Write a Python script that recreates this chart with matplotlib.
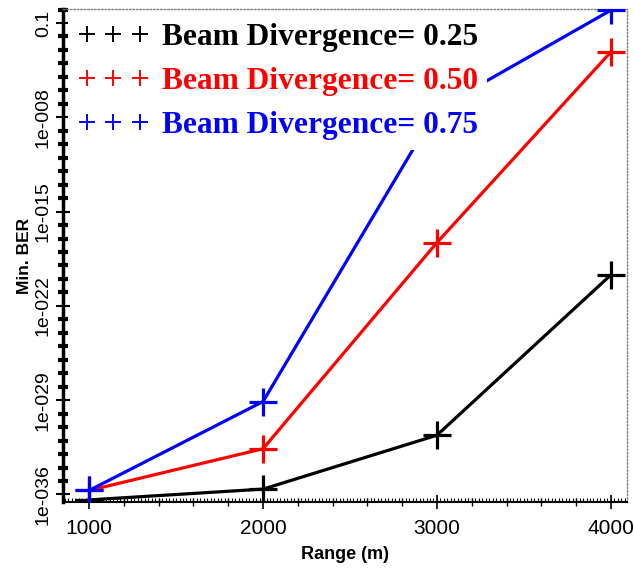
import numpy as np
import matplotlib
matplotlib.use("Agg")
import matplotlib.pyplot as plt
from matplotlib.lines import Line2D
from matplotlib.ticker import FixedLocator, FuncFormatter

# data (log10 of min BER)
ranges = [1000, 2000, 3000, 4000]
ber_025 = [-36.4, -35.6, -31.6, -19.7]
ber_050 = [-35.7, -32.6, -17.3, -3.15]
ber_075 = [-35.7, -29.1, -7.4, -0.05]
labels = ["Beam Divergence= 0.25", "Beam Divergence= 0.50", "Beam Divergence= 0.75"]
colors = ["black", "red", "blue"]
major_exps = [-36, -29, -22, -15, -8, -1]


def fmt(v, pos):
    e = int(round(np.log10(v)))
    if e == -1:
        return "0.1"
    return "1e-%03d" % (-e)


plt.rcParams["font.family"] = ["Liberation Sans", "DejaVu Sans"]

fig = plt.figure(figsize=(6.34, 5.71), dpi=100)
ax = fig.add_axes([0.0994, 0.121, 0.8896, 0.863])

for vals, c in zip([ber_025, ber_050, ber_075], colors):
    ax.plot(ranges, [10.0 ** v for v in vals], color=c, lw=2.3,
            marker="+", ms=20, mew=2.3, zorder=3)

ax.set_yscale("log")
ax.set_ylim(10 ** -36.55, 10 ** 0.03)
ax.set_xlim(850, 4093)

ax.yaxis.set_major_locator(FixedLocator([10.0 ** e for e in major_exps]))
ax.yaxis.set_minor_locator(FixedLocator([10.0 ** e for e in range(-36, 1)]))
ax.yaxis.set_major_formatter(FuncFormatter(fmt))
ax.yaxis.set_minor_formatter(FuncFormatter(lambda v, p: ""))
ax.set_xticks(ranges)
ax.set_xticks(np.arange(1000, 4001, 200), minor=True)

ax.tick_params(axis="y", which="major", direction="inout", length=10, width=1.5,
               labelsize=14, pad=3)
ax.tick_params(axis="y", which="minor", direction="inout", length=7, width=3)
ax.tick_params(axis="x", which="major", direction="inout", length=10, width=1.2,
               labelsize=15, pad=7)
ax.tick_params(axis="x", which="minor", direction="inout", length=6, width=1)
for t in ax.get_yticklabels():
    t.set_rotation(90)
    t.set_va("center")

# fine hatching along the bottom axis
sec = ax.secondary_xaxis("bottom")
sec.set_xticks(np.arange(860, 4093, 20))
sec.tick_params(direction="in", length=3, width=0.8, labelbottom=False)
sec.spines["bottom"].set_visible(False)

for s in ["top", "right"]:
    ax.spines[s].set_linestyle((0, (1, 1.5)))
    ax.spines[s].set_color("gray")
    ax.spines[s].set_linewidth(1)
ax.spines["left"].set_linewidth(2.5)
ax.spines["bottom"].set_linewidth(1.5)

ax.set_xlabel("Range (m)", fontsize=13, fontweight="bold", labelpad=6)
ax.set_ylabel("Min. BER", fontsize=12.5, fontweight="bold", labelpad=2)

handles = [Line2D([0], [0], color=c, ls="none", marker="+", ms=11, mew=1.4)
           for c in colors]
leg = ax.legend(handles, labels, loc="upper left", bbox_to_anchor=(0.0, 1.0),
                numpoints=3, handlelength=2.3, handletextpad=0.4,
                prop={"family": "Liberation Serif", "weight": "bold", "size": 22.6},
                frameon=True, fancybox=False, framealpha=1, edgecolor="none",
                borderpad=0.3, labelspacing=0.48, borderaxespad=0.15)
for t, c in zip(leg.get_texts(), colors):
    t.set_color(c)
leg.set_zorder(5)

fig.savefig("out.png", dpi=100)
